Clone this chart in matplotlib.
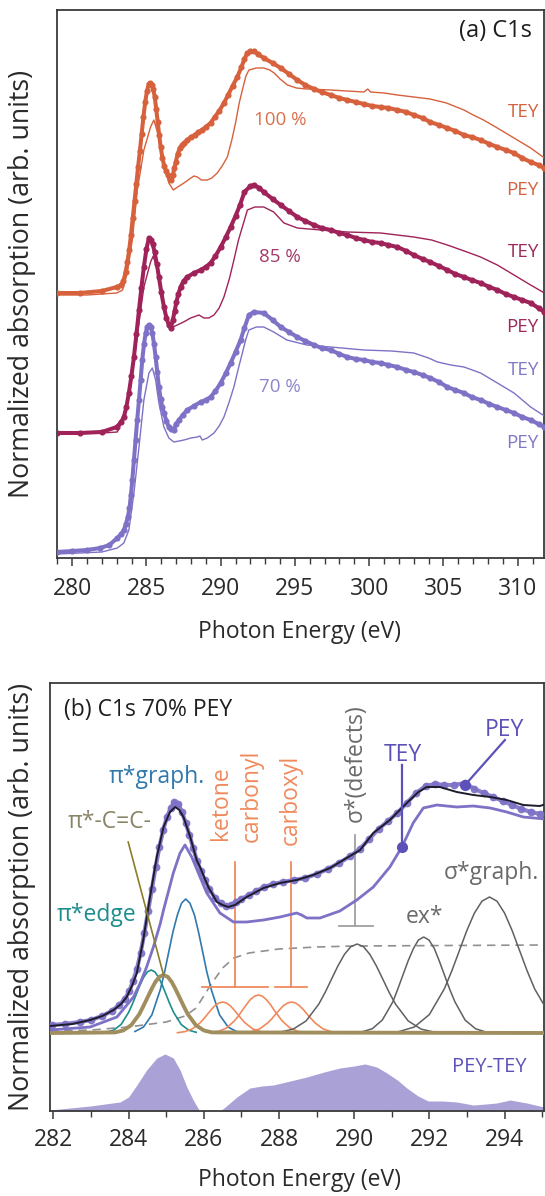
import matplotlib
matplotlib.use("Agg")
import matplotlib.pyplot as plt
from matplotlib.ticker import FixedLocator

plt.rcParams['font.family'] = ['Open Sans', 'DejaVu Sans']

# ---------------- Panel (a) data : photon energy (eV) / normalized absorption (offset, arb.) ----
orange_pey_E = [279.0, 280.5, 282.0, 283.0, 283.3, 283.45, 283.6, 283.72, 283.84, 283.96, 284.08, 284.2,
                284.32, 284.44, 284.56, 284.68, 284.8, 284.92, 285.04, 285.16, 285.26, 285.36, 285.46,
                285.56, 285.66, 285.76, 285.86, 285.96, 286.08, 286.2, 286.32, 286.44, 286.56, 286.66,
                286.78, 286.88, 286.98, 287.1, 287.25, 287.4, 287.55, 287.75, 288.0, 288.25, 288.5,
                288.75, 289.0, 289.32, 289.6, 289.9, 290.22, 290.5, 290.8, 291.12, 291.4, 291.6, 291.8,
                292.0, 292.24, 292.5, 292.9, 293.5, 294.04, 294.6, 295.16, 295.7, 296.28, 296.8, 297.4,
                298.0, 298.53, 299.1, 299.65, 300.2, 300.77, 301.3, 301.9, 302.5, 303.0, 303.6, 304.1,
                304.7, 305.26, 305.8, 306.38, 306.9, 307.5, 308.1, 308.63, 309.2, 309.75, 310.3, 310.87,
                311.4, 311.8]
orange_pey = [265, 265, 267, 271, 273, 277, 286, 296, 308, 323, 340, 357, 374, 391, 407, 424, 441, 456,
              467, 474, 475, 473, 469, 461, 449, 436, 423, 411, 400, 392, 387, 383, 379, 378, 383, 390,
              396, 404, 410, 413, 415, 418, 421, 423, 426, 428, 431, 435, 441, 447, 455, 463, 472, 481,
              491, 499, 505, 507, 507, 504, 500, 495, 490, 484, 478, 473, 469, 466, 463, 460, 458, 456,
              454, 452, 451, 450, 448, 446, 443, 440, 436, 433, 430, 427, 423, 421, 418, 414, 411, 408,
              405, 400, 396, 393, 390]
orange_tey_E = [279.0, 281.0, 283.0, 283.4, 283.71, 284.05, 284.39, 284.83, 285.28, 285.5, 285.84, 286.18,
                286.51, 286.81, 287.1, 287.53, 287.9, 288.2, 288.43, 288.7, 289.1, 289.4, 289.77, 290.1,
                290.45, 290.75, 291.0, 291.25, 291.46, 291.7, 291.9, 292.4, 292.9, 293.3, 293.6, 294.0,
                294.5, 295.1, 295.8, 297.4, 298.5, 299.65, 299.9, 300.1, 301.0, 301.9, 303.0, 304.1,
                305.2, 306.38, 307.0, 307.7, 308.63, 309.75, 310.87, 311.8]
orange_tey = [263, 263, 265, 268, 285, 318, 368, 408, 431, 438, 421, 395, 375, 368, 371, 375, 379, 382,
              381, 378, 378, 380, 385, 392, 401, 418, 435, 455, 468, 482, 488, 490, 490, 488, 485, 479,
              473, 470, 469, 468, 467, 466, 469, 466, 465, 463, 461, 459, 455, 448, 443, 438, 430, 420,
              410, 400]

magenta_pey_E = [279.0, 280.5, 282.0, 283.0, 283.3, 283.48, 283.65, 283.82, 283.99, 284.16, 284.33, 284.5,
                 284.66, 284.83, 285.0, 285.17, 285.3, 285.42, 285.55, 285.7, 285.84, 286.0, 286.18,
                 286.35, 286.51, 286.65, 286.78, 286.9, 287.02, 287.15, 287.3, 287.5, 287.75, 288.2,
                 288.65, 289.0, 289.32, 289.65, 290.0, 290.35, 290.67, 291.0, 291.3, 291.6, 292.0,
                 292.24, 292.6, 292.9, 293.5, 294.04, 294.6, 295.16, 295.7, 296.28, 296.8, 297.4, 298.0,
                 298.53, 299.1, 299.65, 300.2, 300.77, 301.3, 301.9, 302.5, 303.0, 303.6, 304.1, 304.7,
                 305.26, 305.8, 306.38, 306.9, 307.5, 308.1, 308.63, 309.2, 309.75, 310.3, 310.87, 311.4,
                 311.8]
magenta_pey = [125, 125, 126, 131, 136, 141, 151, 165, 182, 201, 224, 248, 270, 291, 309, 320, 318, 314,
               306, 294, 281, 266, 251, 240, 233, 230, 238, 247, 256, 264, 271, 277, 281, 285, 288, 291,
               295, 302, 311, 321, 331, 342, 353, 366, 372, 373, 370, 366, 359, 353, 347, 341, 337, 333,
               330, 328, 325, 323, 320, 318, 316, 315, 313, 311, 307, 303, 299, 296, 292, 288, 284, 281,
               278, 275, 271, 268, 264, 261, 258, 255, 250, 246]
magenta_tey_E = [279.0, 282.0, 283.04, 283.6, 284.05, 284.45, 284.83, 285.28, 285.46, 285.73, 286.07,
                 286.4, 286.63, 287.08, 287.5, 287.98, 288.54, 288.87, 289.2, 289.55, 289.9, 290.22, 290.6,
                 290.89, 291.2, 291.46, 291.8, 292.3, 292.9, 293.57, 294.26, 295.16, 296.73, 298.53,
                 300.77, 303.0, 304.2, 305.26, 306.4, 307.5, 308.63, 309.75, 310.87, 311.8]
magenta_tey = [124, 125, 126, 145, 185, 230, 271, 296, 302, 288, 261, 240, 230, 233, 236, 240, 243, 240,
               240, 243, 250, 261, 280, 298, 318, 331, 348, 351, 351, 346, 335, 330, 328, 326, 325, 321,
               318, 313, 307, 301, 293, 283, 273, 265]

purple_pey_E = [279.0, 280.0, 281.0, 281.9, 282.5, 283.04, 283.3, 283.48, 283.62, 283.75, 283.86, 283.96,
                284.05, 284.16, 284.27, 284.38, 284.5, 284.61, 284.72, 284.84, 284.95, 285.06, 285.17,
                285.28, 285.4, 285.51, 285.62, 285.73, 285.84, 285.96, 286.07, 286.18, 286.35, 286.51,
                286.68, 286.85, 287.0, 287.19, 287.45, 287.75, 288.2, 288.65, 289.0, 289.32, 289.65,
                290.0, 290.35, 290.67, 291.0, 291.34, 291.6, 291.9, 292.24, 292.9, 293.5, 294.04, 294.6,
                295.16, 295.7, 296.28, 296.8, 297.4, 298.0, 298.53, 299.1, 299.65, 300.2, 300.77, 301.3,
                301.9, 302.5, 303.0, 303.6, 304.1, 304.7, 305.26, 305.8, 306.38, 306.9, 307.5, 308.1,
                308.63, 309.2, 309.75, 310.3, 310.87, 311.4, 311.8]
purple_pey = [6, 7, 8, 10, 13, 20, 24, 28, 34, 41, 50, 63, 78, 98, 118, 138, 158, 178, 198, 214, 225, 231,
              233, 231, 225, 214, 201, 186, 171, 159, 151, 145, 137, 131, 129, 128, 134, 138, 143, 148,
              152, 156, 158, 161, 167, 175, 185, 195, 206, 218, 230, 243, 246, 245, 238, 231, 226, 221,
              217, 213, 210, 208, 204, 201, 199, 198, 196, 195, 193, 191, 188, 186, 183, 180, 176, 171,
              168, 165, 161, 158, 154, 151, 148, 145, 141, 138, 134, 131]
purple_tey_E = [279.0, 282.0, 283.04, 283.48, 283.82, 284.16, 284.5, 284.83, 285.17, 285.4, 285.62, 285.84,
                286.18, 286.51, 286.85, 287.2, 287.53, 288.0, 288.43, 288.6, 288.76, 289.1, 289.55, 289.9,
                290.22, 290.55, 290.89, 291.2, 291.46, 291.7, 291.9, 292.4, 292.9, 293.57, 294.46, 295.8,
                297.4, 299.65, 301.5, 303.0, 304.0, 304.6, 305.5, 306.38, 307.5, 308.63, 309.75, 310.87,
                311.8]
purple_tey = [4, 6, 10, 15, 28, 65, 111, 158, 185, 190, 178, 155, 131, 120, 116, 117, 118, 120, 121, 122,
              118, 120, 125, 132, 141, 155, 171, 190, 205, 219, 228, 231, 231, 226, 218, 213, 211, 208,
              207, 205, 200, 196, 193, 191, 185, 175, 165, 151, 142]

# ---------------- Panel (b) data -------------------------------------------------------------
fit_E = [281.91, 282.5, 282.98, 283.3, 283.6, 283.8, 283.95, 284.1, 284.22, 284.39, 284.57, 284.75,
         284.93, 285.1, 285.24, 285.35, 285.46, 285.64, 285.81, 285.9, 286.12, 286.35, 286.5, 286.65,
         286.83, 287.14, 287.59, 288.03, 288.47, 288.91, 289.36, 289.8, 290.16, 290.51, 290.95, 291.4,
         291.71, 291.93, 292.28, 292.73, 293.17, 293.62, 294.06, 294.5, 294.94, 295.1]
fit_y = [85, 87, 91, 95, 101, 107, 114, 126, 138, 171, 214, 254, 284, 299, 304, 301, 294, 274, 251, 244,
         224, 209, 206, 204, 206, 214, 223, 228, 231, 236, 243, 253, 261, 278, 291, 308, 319, 324, 324,
         319, 316, 314, 311, 306, 305, 307]

pey_b_E = [281.95, 282.3, 282.7, 283.0, 283.3, 283.55, 283.75, 283.9, 284.02, 284.12, 284.22, 284.32,
           284.42, 284.52, 284.62, 284.72, 284.82, 284.92, 285.02, 285.12, 285.22, 285.32, 285.42, 285.52,
           285.62, 285.72, 285.82, 285.92, 286.02, 286.15, 286.3, 286.45, 286.6, 286.72, 286.85, 287.0,
           287.2, 287.4, 287.6, 287.85, 288.1, 288.4, 288.7, 289.0, 289.3, 289.6, 289.9, 290.15, 290.4,
           290.65, 290.9, 291.15, 291.4, 291.65, 291.9, 292.15, 292.4, 292.65, 292.95, 293.2, 293.45,
           293.7, 293.95, 294.2, 294.45, 294.7, 294.95]
pey_b = [86, 87, 89, 91, 95, 100, 106, 112, 120, 130, 142, 158, 178, 200, 222, 244, 264, 281, 294, 303,
         309, 307, 299, 288, 276, 263, 250, 240, 231, 222, 213, 208, 205, 206, 209, 212, 216, 220, 224,
         227, 229, 231, 233, 237, 242, 248, 255, 262, 272, 282, 290, 298, 308, 318, 325, 327, 326, 326,
         328, 322, 318, 314, 310, 306, 302, 299, 297]

tey_b_E = [281.91, 282.98, 283.69, 284.13, 284.31, 284.48, 284.66, 284.84, 284.93, 285.19, 285.37, 285.5,
           285.68, 285.9, 286.08, 286.43, 286.79, 287.14, 287.59, 288.03, 288.47, 288.6, 288.74, 289.09,
           289.62, 290.07, 290.51, 290.95, 291.27, 291.57, 291.84, 292.2, 292.73, 293.17, 293.62, 294.06,
           294.5, 295.08]
tey_b = [81, 84, 94, 114, 128, 144, 164, 187, 201, 238, 258, 266, 254, 234, 218, 198, 189, 189, 191, 194,
         198, 196, 193, 193, 200, 211, 224, 244, 264, 288, 303, 306, 304, 305, 303, 299, 294, 292]

step_E = [281.91, 283.0, 284.0, 285.0, 285.5, 285.8, 286.0, 286.2, 286.5, 286.8, 287.2, 288.0, 289.0,
          290.0, 295.1]
step_y = [80, 81, 84, 89, 95, 103, 115, 127, 143, 153, 158, 162, 164, 165, 166]

comp_base = 78   # level of the fit-component baseline
edge_E = [283.40, 283.60, 283.80, 284.00, 284.10, 284.20, 284.30, 284.40, 284.50, 284.60, 284.70, 284.80,
          284.90, 285.00, 285.10, 285.20, 285.40, 285.60, 285.80]
edge_h = [0.7, 2.8, 8.5, 20.5, 28.8, 38.2, 47.6, 55.6, 61.1, 63.0, 61.1, 55.6, 47.6, 38.2, 28.8, 20.5, 8.5,
          2.8, 0.7]
cc_E = [281.91, 283.64, 283.855, 284.07, 284.285, 284.39, 284.50, 284.61, 284.715, 284.82, 284.93, 285.04,
        285.145, 285.25, 285.36, 285.47, 285.575, 285.79, 286.005, 286.22, 295.1]
cc_h = [0.0, 0.6, 2.5, 7.8, 18.8, 26.6, 35.2, 43.8, 51.2, 56.2, 58.0, 56.2, 51.2, 43.8, 35.2, 26.6, 18.8, 7.8,
        2.5, 0.6, 0.0]
graph_E = [284.17, 284.395, 284.62, 284.845, 284.96, 285.07, 285.18, 285.30, 285.41, 285.52, 285.63,
           285.75, 285.86, 285.97, 286.08, 286.20, 286.42, 286.65, 286.87]
graph_h = [1.5, 5.9, 18.1, 43.5, 61.3, 81.3, 101.1, 118.3, 129.9, 134.0, 129.9, 118.3, 101.1, 81.3, 61.3,
           43.5, 18.1, 5.9, 1.5]
ketone_E = [285.30, 285.50, 285.70, 285.90, 286.00, 286.10, 286.20, 286.30, 286.40, 286.50, 286.60,
            286.70, 286.80, 286.90, 287.00, 287.10, 287.30, 287.50, 287.70]
ketone_h = [0.3, 1.4, 4.2, 10.1, 14.2, 18.8, 23.4, 27.4, 30.0, 31.0, 30.0, 27.4, 23.4, 18.8, 14.2, 10.1,
            4.2, 1.4, 0.3]
carbonyl_E = [286.19, 286.40, 286.61, 286.82, 286.93, 287.03, 287.14, 287.24, 287.35, 287.45, 287.56,
              287.66, 287.77, 287.87, 287.98, 288.08, 288.29, 288.50, 288.71]
carbonyl_h = [0.4, 1.7, 5.1, 12.3, 17.4, 23.0, 28.7, 33.5, 36.8, 38.0, 36.8, 33.5, 28.7, 23.0, 17.4, 12.3,
              5.1, 1.7, 0.4]
carboxyl_E = [287.07, 287.28, 287.49, 287.70, 287.81, 287.91, 288.02, 288.12, 288.23, 288.33, 288.44,
              288.54, 288.65, 288.75, 288.86, 288.96, 289.17, 289.38, 289.59]
carboxyl_h = [0.3, 1.4, 4.2, 10.1, 14.2, 18.8, 23.4, 27.4, 30.0, 31.0, 30.0, 27.4, 23.4, 18.8, 14.2, 10.1,
              4.2, 1.4, 0.3]
defect_E = [288.04, 288.38, 288.72, 289.06, 289.23, 289.40, 289.57, 289.74, 289.91, 290.08, 290.25,
            290.42, 290.59, 290.76, 290.93, 291.10, 291.44, 291.78, 292.12]
defect_h = [1.0, 3.9, 12.0, 28.9, 40.7, 54.0, 67.2, 78.5, 86.3, 89.0, 86.3, 78.5, 67.2, 54.0, 40.7, 28.9,
            12.0, 3.9, 1.0]
ex_E = [290.20, 290.48, 290.75, 291.03, 291.16, 291.30, 291.44, 291.58, 291.71, 291.85, 291.99, 292.13,
        292.26, 292.40, 292.54, 292.68, 292.95, 293.23, 293.50]
ex_h = [1.1, 4.2, 13.0, 31.2, 43.9, 58.2, 72.5, 84.7, 93.0, 96.0, 93.0, 84.7, 72.5, 58.2, 43.9, 31.2, 13.0,
        4.2, 1.1]
sgraph_E = [291.20, 291.60, 292.00, 292.40, 292.60, 292.80, 293.00, 293.20, 293.40, 293.60, 293.80,
            294.00, 294.20, 294.40, 294.60, 294.80, 295.20]
sgraph_h = [1.5, 6.0, 18.4, 44.2, 62.3, 82.5, 102.7, 120.0, 131.8, 136.0, 131.8, 120.0, 102.7, 82.5, 62.3,
            44.2, 18.4]

diff_E = [281.91, 282.98, 283.77, 284.0, 284.22, 284.48, 284.75, 284.97, 285.19, 285.37, 285.55, 285.72,
          285.86, 285.9, 286.43, 286.57, 286.88, 287.23, 287.55, 287.85, 288.3, 288.74, 289.2, 289.62,
          290.0, 290.29, 290.6, 290.87, 291.15, 291.4, 291.7, 291.97, 292.35, 292.73, 293.17, 293.5,
          293.79, 294.15, 294.59, 295.05]
diff_y = [1, 5, 9, 14, 26, 41, 53, 57, 53, 41, 24, 11, 2, 0, 0, 4, 14, 23, 25, 26, 30, 34, 39, 43, 45,
          47, 44, 38, 31, 23, 15, 10, 10, 9, 6, 7, 8, 11, 8, 4]

# ---------------- colours ----------------
C_OR = '#d6613c'
C_MG = '#9f2259'
C_PU = '#7d72c6'
C_PU_DARK = '#5b51b8'
C_FILL = '#aaa2d6'
C_TEAL = '#1d8d8d'
C_BLUE = '#2f79ae'
C_OLIVE = '#a08e5e'
C_OLIVE_TXT = '#8a8468'
C_ORL = '#f08a5d'
C_GRAY = '#606060'
SPINE = '#3a3a3a'

fig = plt.figure(figsize=(5.45, 11.96), dpi=100)
W, H = 545.0, 1196.0


def style_axes(ax, major, minor_start, minor_stop, pad):
    for s in ax.spines.values():
        s.set_color(SPINE)
        s.set_linewidth(1.3)
    ax.set_yticks([])
    ax.set_xticks(major)
    ax.xaxis.set_minor_locator(FixedLocator(list(range(minor_start, minor_stop))))
    ax.tick_params(axis='x', which='major', direction='out', length=6, width=1.1, color=SPINE,
                   labelsize=16.5, labelcolor='#2a2a2a', pad=pad)
    ax.tick_params(axis='x', which='minor', direction='out', length=4.5, width=1.0, color=SPINE)


# ================= Panel (a) =================
axA = fig.add_axes([56.7 / W, 1 - 558 / H, (544 - 56.7) / W, 548 / H])
axA.set_xlim(278.96, 311.77)
axA.set_ylim(0, 548)
style_axes(axA, [280, 285, 290, 295, 300, 305, 310], 279, 312, 8)

for E, y, c in [(orange_tey_E, orange_tey, C_OR), (magenta_tey_E, magenta_tey, C_MG),
                (purple_tey_E, purple_tey, C_PU)]:
    axA.plot(E, y, color=c, lw=1.0, zorder=3)
for E, y, c in [(orange_pey_E, orange_pey, C_OR), (magenta_pey_E, magenta_pey, C_MG),
                (purple_pey_E, purple_pey, C_PU)]:
    axA.plot(E, y, color=c, lw=2.9, marker='o', ms=3.4, mec=c, mfc=c, zorder=4)

axA.text(310.95, 527, '(a) C1s', fontsize=17, color='#1e1e1e', ha='right', va='center')
axA.text(294.0, 438, '100 %', fontsize=13.5, color='#d8714f', ha='center', va='center')
axA.text(294.0, 301, '85 %', fontsize=13.5, color='#a33a6a', ha='center', va='center')
axA.text(294.0, 171, '70 %', fontsize=13.5, color='#8c86cc', ha='center', va='center')
for lab, y, c in [('TEY', 446, '#d4623f'), ('PEY', 368, '#d4623f'), ('TEY', 306, '#9c2a5c'),
                  ('PEY', 231, '#9c2a5c'), ('TEY', 188, '#8079c6'), ('PEY', 115, '#8079c6')]:
    axA.text(311.42, y, lab, fontsize=13.5, color=c, ha='right', va='center')

fig.text(22 / W, 1 - 284 / H, 'Normalized absorption (arb. units)', rotation=90, fontsize=19.3,
         color='#2a2a2a', ha='center', va='center')
fig.text(300 / W, 1 - 632 / H, 'Photon Energy (eV)', fontsize=16.5, color='#2a2a2a',
         ha='center', va='center')

# ================= Panel (b) =================
axB = fig.add_axes([50 / W, 1 - 1111 / H, 494 / W, 428 / H])
axB.set_xlim(281.91, 295.05)
axB.set_ylim(0, 428)
style_axes(axB, [282, 284, 286, 288, 290, 292, 294], 282, 296, 6)

# difference PEY-TEY
axB.fill_between(diff_E, 0, diff_y, color=C_FILL, lw=0, zorder=1)

# step (dashed)
axB.plot(step_E, step_y, color='#909090', lw=1.2, ls=(0, (5, 3.5)), zorder=2)


def comp(E, h, color, lw, z):
    axB.plot(E, [comp_base + v for v in h], color=color, lw=lw, zorder=z)


comp(edge_E, edge_h, C_TEAL, 1.2, 3)
comp(graph_E, graph_h, C_BLUE, 1.2, 3)
comp(ketone_E, ketone_h, C_ORL, 1.2, 3)
comp(carbonyl_E, carbonyl_h, C_ORL, 1.2, 3)
comp(carboxyl_E, carboxyl_h, C_ORL, 1.2, 3)
comp(defect_E, defect_h, C_GRAY, 1.1, 3)
comp(ex_E, ex_h, C_GRAY, 1.1, 3)
comp(sgraph_E, sgraph_h, C_GRAY, 1.1, 3)
comp(cc_E, cc_h, C_OLIVE, 2.8, 4)

# data and fit
axB.plot(tey_b_E, tey_b, color=C_PU, lw=2.0, zorder=5)
axB.plot(pey_b_E, pey_b, color=C_PU, lw=3.0, marker='o', ms=4.6, mec=C_PU, mfc=C_PU, alpha=0.9, zorder=6)
axB.plot(fit_E, fit_y, color='#1c1c2a', lw=1.4, zorder=7)

# orange brackets
for xc, x0, x1 in [(286.83, 285.95, 287.72), (288.31, 287.9, 288.74)]:
    axB.plot([xc, xc], [124, 249], color=C_ORL, lw=1.3, zorder=3)
    axB.plot([x0, x1], [124, 124], color=C_ORL, lw=1.3, zorder=3)
# gray bracket
axB.plot([290.02, 290.02], [185, 276], color='#a0a0a0', lw=1.3, zorder=3)
axB.plot([289.6, 290.5], [185, 185], color='#a0a0a0', lw=1.3, zorder=3)

# pointers
axB.plot([283.99, 284.93], [269, 136], color='#8b7d2a', lw=1.2, zorder=8)
axB.plot([291.27, 291.27], [346, 264], color=C_PU_DARK, lw=1.6, zorder=8)
axB.plot([291.27], [264], 'o', color=C_PU_DARK, ms=7, zorder=9)
axB.plot([294.01, 292.95], [371, 326], color=C_PU_DARK, lw=1.6, zorder=8)
axB.plot([292.95], [326], 'o', color=C_PU_DARK, ms=7, zorder=9)

# labels
axB.text(282.28, 401, '(b) C1s 70% PEY', fontsize=16.5, color='#1e1e1e', ha='left', va='center')
axB.text(284.74, 334, 'π*graph.', fontsize=16.5, color=C_BLUE, ha='center', va='center')
axB.text(283.51, 289, 'π*-C=C-', fontsize=16.5, color=C_OLIVE_TXT, ha='center', va='center')
axB.text(283.16, 196, 'π*edge', fontsize=16.5, color=C_TEAL, ha='center', va='center')
axB.text(286.46, 271, 'ketone', fontsize=16.5, color=C_ORL, rotation=90, ha='center', va='bottom')
axB.text(287.28, 269, 'carbonyl', fontsize=16.5, color=C_ORL, rotation=90, ha='center', va='bottom')
axB.text(288.32, 266, 'carboxyl', fontsize=16.5, color=C_ORL, rotation=90, ha='center', va='bottom')
axB.text(290.05, 289, 'σ*(defects)', fontsize=16.5, color='#6a6a6a', rotation=90, ha='center',
         va='bottom')
axB.text(291.3, 356, 'TEY', fontsize=16.5, color=C_PU_DARK, ha='center', va='center')
axB.text(294.01, 381, 'PEY', fontsize=16.5, color=C_PU_DARK, ha='center', va='center')
axB.text(293.65, 238, 'σ*graph.', fontsize=16.5, color='#6a6a6a', ha='center', va='center')
axB.text(291.88, 194, 'ex*', fontsize=16.5, color='#6a6a6a', ha='center', va='center')
axB.text(293.6, 44, 'PEY-TEY', fontsize=14.5, color=C_PU_DARK, ha='center', va='center')

fig.text(22 / W, 1 - 897 / H, 'Normalized absorption (arb. units)', rotation=90, fontsize=19.3,
         color='#2a2a2a', ha='center', va='center')
fig.text(300 / W, 1 - 1180 / H, 'Photon Energy (eV)', fontsize=16.5, color='#2a2a2a',
         ha='center', va='center')

fig.savefig('out.png', dpi=100)
